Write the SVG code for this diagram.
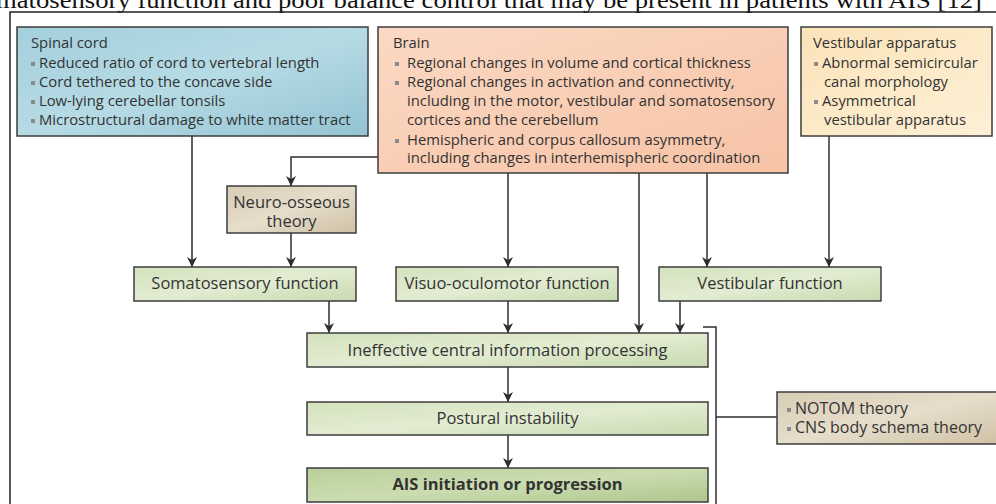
<svg xmlns="http://www.w3.org/2000/svg" width="996" height="504" viewBox="0 0 996 504">
<defs>
<linearGradient id="gBlue" x1="0" y1="0" x2="1" y2="1"><stop offset="0" stop-color="#a3cfdc"/><stop offset="0.5" stop-color="#b6dbe5"/><stop offset="1" stop-color="#93c3d2"/></linearGradient>
<linearGradient id="gPeach" x1="0" y1="0" x2="1" y2="1"><stop offset="0" stop-color="#fbd9c4"/><stop offset="1" stop-color="#f7c3a6"/></linearGradient>
<linearGradient id="gYellow" x1="0" y1="0" x2="1" y2="1"><stop offset="0" stop-color="#fbe3b9"/><stop offset="1" stop-color="#fdf0d6"/></linearGradient>
<linearGradient id="gGreen" x1="0" y1="0" x2="1" y2="1"><stop offset="0" stop-color="#d4e2bd"/><stop offset="0.5" stop-color="#e2ecd2"/><stop offset="1" stop-color="#c9dab0"/></linearGradient>
<linearGradient id="gGreenDark" x1="0" y1="0" x2="1" y2="1"><stop offset="0" stop-color="#b9d09a"/><stop offset="0.5" stop-color="#cbdcb1"/><stop offset="1" stop-color="#adc68b"/></linearGradient>
<linearGradient id="gTan" x1="0" y1="0" x2="1" y2="1"><stop offset="0" stop-color="#d8ccb4"/><stop offset="0.5" stop-color="#e6ddcb"/><stop offset="1" stop-color="#cfc1a5"/></linearGradient>
<marker id="arr" markerUnits="userSpaceOnUse" markerWidth="11" markerHeight="10" refX="10" refY="5" orient="auto" viewBox="0 0 11 10">
<path d="M0,0 L10,5 L0,10 L3,5 Z" fill="#2e2e2e"/>
</marker>
</defs>
<style>
.box{stroke:#3c3c3c;stroke-width:1.5}
.t{font-family:"Open Sans","Liberation Sans",sans-serif;font-size:14.8px;fill:#333}
.c{font-family:"Open Sans","Liberation Sans",sans-serif;font-size:16.5px;fill:#333;text-anchor:middle}
.b{font-weight:bold}
.bul{fill:#8a8a8a}
.ln{fill:none;stroke:#2e2e2e;stroke-width:1.5}
.arr{marker-end:url(#arr)}
.frame{fill:none;stroke:#222;stroke-width:1.5}
</style>
<rect width="996" height="504" fill="#ffffff"/>
<text x="-4" y="8" font-family="Liberation Serif, serif" font-size="24" fill="#111" textLength="986" lengthAdjust="spacingAndGlyphs">matosensory function and poor balance control that may be present in patients with AIS [12]</text>
<path class="frame" d="M10,505 V12 H997"/>

<g id="connectors">
<path class="ln arr" d="M192,136 V267"/>
<path class="ln arr" d="M378,157 H291 V186"/>
<path class="ln arr" d="M291,233 V267"/>
<path class="ln arr" d="M508,173 V267"/>
<path class="ln arr" d="M639,173 V333"/>
<path class="ln arr" d="M707,173 V267"/>
<path class="ln arr" d="M829,136 V267"/>
<path class="ln arr" d="M329,301 V333"/>
<path class="ln arr" d="M508,301 V333"/>
<path class="ln arr" d="M680,301 V333"/>
<path class="ln arr" d="M508,367 V402"/>
<path class="ln arr" d="M508,435 V468"/>
<path class="ln" d="M703,327 H716 V505"/>
<path class="ln" d="M716,417 H777"/>
</g>

<g id="spinal-cord">
<rect class="box" x="17" y="27" width="351" height="109" fill="url(#gBlue)"/>
<text class="t" x="31" y="48">Spinal cord</text>
<rect class="bul" x="31" y="62" width="4" height="4"/><text class="t" x="39" y="68">Reduced ratio of cord to vertebral length</text>
<rect class="bul" x="31" y="81" width="4" height="4"/><text class="t" x="39" y="87">Cord tethered to the concave side</text>
<rect class="bul" x="31" y="100" width="4" height="4"/><text class="t" x="39" y="106">Low-lying cerebellar tonsils</text>
<rect class="bul" x="31" y="119" width="4" height="4"/><text class="t" x="39" y="125">Microstructural damage to white matter tract</text>
</g>

<g id="brain">
<rect class="box" x="378" y="27" width="410" height="146" fill="url(#gPeach)"/>
<text class="t" x="393" y="48">Brain</text>
<rect class="bul" x="395" y="62" width="4" height="4"/><text class="t" x="407" y="68">Regional changes in volume and cortical thickness</text>
<rect class="bul" x="395" y="81" width="4" height="4"/><text class="t" x="407" y="87">Regional changes in activation and connectivity,</text>
<text class="t" x="407" y="106">including in the motor, vestibular and somatosensory</text>
<text class="t" x="407" y="125">cortices and the cerebellum</text>
<rect class="bul" x="395" y="139" width="4" height="4"/><text class="t" x="407" y="145">Hemispheric and corpus callosum asymmetry,</text>
<text class="t" x="407" y="163">including changes in interhemispheric coordination</text>
</g>

<g id="vestibular-apparatus">
<rect class="box" x="801" y="27" width="191" height="109" fill="url(#gYellow)"/>
<text class="t" x="813" y="48">Vestibular apparatus</text>
<rect class="bul" x="814" y="62" width="4" height="4"/><text class="t" x="822" y="68">Abnormal semicircular</text>
<text class="t" x="824" y="87">canal morphology</text>
<rect class="bul" x="814" y="100" width="4" height="4"/><text class="t" x="822" y="106">Asymmetrical</text>
<text class="t" x="824" y="125">vestibular apparatus</text>
</g>

<g id="neuro-osseous">
<rect class="box" x="227" y="186" width="129" height="47" fill="url(#gTan)"/>
<text class="c" x="291.5" y="208">Neuro-osseous</text>
<text class="c" x="291.5" y="227">theory</text>
</g>

<g id="somatosensory">
<rect class="box" x="134" y="267" width="222" height="34" fill="url(#gGreen)"/>
<text class="c" x="245" y="289">Somatosensory function</text>
</g>

<g id="visuo-oculomotor">
<rect class="box" x="396" y="267" width="222" height="34" fill="url(#gGreen)"/>
<text class="c" x="507" y="289">Visuo-oculomotor function</text>
</g>

<g id="vestibular-function">
<rect class="box" x="659" y="267" width="222" height="34" fill="url(#gGreen)"/>
<text class="c" x="770" y="289">Vestibular function</text>
</g>

<g id="ineffective">
<rect class="box" x="307" y="333" width="401" height="34" fill="url(#gGreen)"/>
<text class="c" x="507.5" y="356">Ineffective central information processing</text>
</g>

<g id="postural">
<rect class="box" x="307" y="402" width="401" height="33" fill="url(#gGreen)"/>
<text class="c" x="507.5" y="424">Postural instability</text>
</g>

<g id="ais">
<rect class="box" x="307" y="468" width="401" height="34" fill="url(#gGreenDark)"/>
<text class="c b" x="507.5" y="490">AIS initiation or progression</text>
</g>

<g id="notom">
<rect class="box" x="777" y="392" width="222" height="52" fill="url(#gTan)"/>
<rect class="bul" x="787" y="408" width="4" height="4"/><text class="t" x="795" y="414" style="font-size:16px">NOTOM theory</text>
<rect class="bul" x="787" y="427" width="4" height="4"/><text class="t" x="795" y="433" style="font-size:16px">CNS body schema theory</text>
</g>
</svg>
